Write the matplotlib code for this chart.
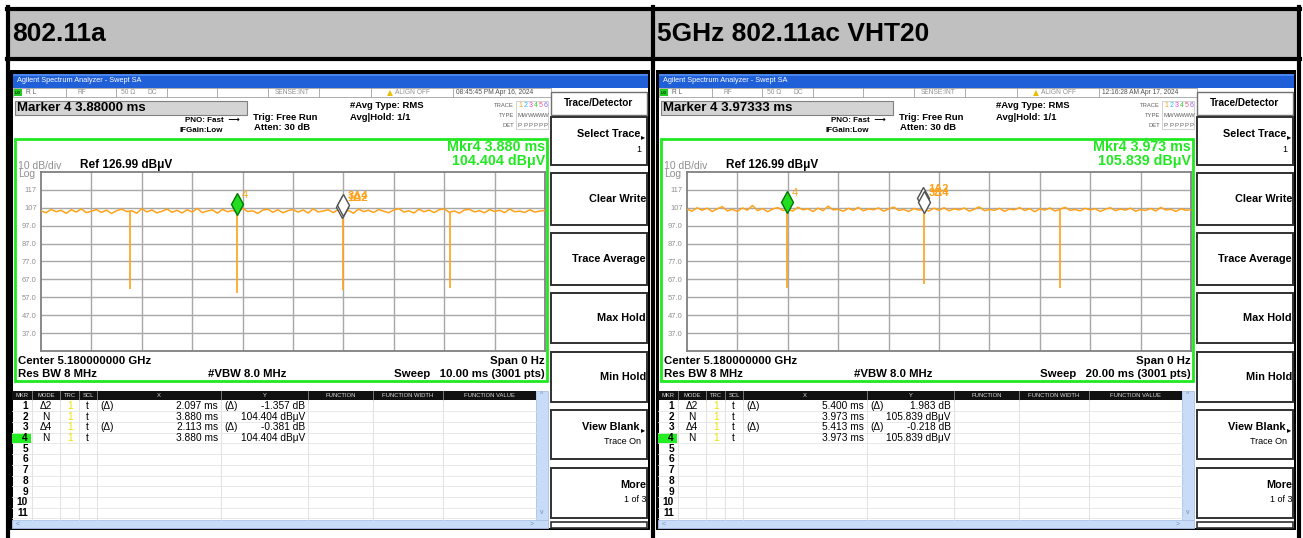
import numpy as np
import matplotlib.pyplot as plt
from matplotlib.patches import Rectangle
from matplotlib.transforms import offset_copy

plt.rcParams['font.family'] = ['Liberation Sans', 'DejaVu Sans']

W, H = 1303, 538

# ---- data ----
titles = ['802.11a', '5GHz 802.11ac VHT20']
timestamps = ['08:45:45 PM Apr 16, 2024', '12:16:28 AM Apr 17, 2024']
marker_box = ['Marker 4 3.88000 ms', 'Marker 4 3.97333 ms']
sweep_ms = [10.0, 20.0]
sweep_text = ['Sweep   10.00 ms (3001 pts)', 'Sweep   20.00 ms (3001 pts)']
ref_level = 126.99
ytick_vals = [117, 107, 97, 87, 77, 67, 57, 47, 37]
ytick_labels = ['117', '107', '97.0', '87.0', '77.0', '67.0', '57.0', '47.0', '37.0']

trace_a = [
    105.3, 104.2, 106.1, 104.8, 105.6, 103.9, 105.9, 104.6, 106.4, 104.3,
    105.1, 106.0, 104.4, 105.7, 103.8, 105.4, 106.2, 104.9, 105.3, 104.0,
    106.5, 104.7, 105.8, 104.2, 105.0, 106.3, 104.5, 105.6, 104.1, 105.9,
    104.6, 106.6, 104.3, 105.2, 105.8, 104.0, 106.1, 104.8, 105.5, 104.4,
    106.7, 104.9, 105.3, 103.9, 105.7, 106.2, 104.5, 105.9, 104.2, 105.4,
    106.0, 104.6, 105.8, 104.1, 106.4, 104.7, 105.2, 105.9, 104.3, 106.1,
    104.8, 105.5, 104.0, 106.3, 104.9, 105.6, 104.4, 106.0, 105.1, 104.2,
    105.8, 106.5, 104.6, 105.3, 104.1, 106.2, 104.8, 105.7, 104.3, 105.9,
    106.4, 104.5, 105.2, 104.0, 105.8, 106.1, 104.7, 105.4, 104.2, 106.0,
    104.9, 105.6, 104.3, 106.3, 104.8, 105.1, 104.4, 105.9, 104.6, 105.2, 105.5]
trace_ac = [
    106.2, 105.1, 107.0, 105.6, 106.8, 104.9, 106.4, 107.6, 105.3, 106.1,
    105.0, 106.9, 105.7, 108.3, 105.4, 106.6, 104.8, 106.3, 107.1, 105.5,
    106.0, 105.2, 107.3, 105.9, 106.5, 104.9, 106.8, 105.4, 107.9, 105.8,
    106.2, 105.0, 106.7, 105.6, 107.2, 105.3, 106.4, 105.9, 106.9, 105.1,
    106.3, 107.4, 105.5, 106.1, 104.9, 106.6, 105.7, 106.0, 105.2, 106.8,
    105.6, 107.0, 105.3, 106.4, 105.8, 106.9, 105.1, 106.2, 107.5, 105.4,
    106.0, 105.6, 106.7, 105.0, 106.3, 105.9, 107.1, 105.5, 106.5, 104.8,
    106.4, 105.7, 106.9, 105.2, 106.1, 107.3, 105.6, 106.0, 105.3, 106.7,
    105.8, 106.5, 104.9, 106.2, 107.0, 105.4, 106.3, 105.7, 106.8, 105.1,
    106.0, 105.5, 106.6, 105.2, 107.2, 105.8, 106.1, 105.0, 106.4, 105.6, 105.9]
traces = [trace_a, trace_ac]

dip_times = [[1.767, 3.880, 5.993, 8.106], [3.973, 9.386, 14.80]]
dip_lows = [[61.7, 59.5, 61.3, 62.0], [62.2, 64.4, 62.0]]

# marker 4 (normal) and the two delta markers
m4_time = [3.880, 3.973]
m4_level = [104.404, 105.839]
d12_time = [2.097, 5.400]
d12_level = [-1.357, 1.983]
d34_time = [2.113, 5.413]
d34_level = [-0.381, -0.218]

mkr_line1 = ['Mkr4 3.880 ms', 'Mkr4 3.973 ms']
mkr_line2 = ['104.404 dBμV', '105.839 dBμV']

tbl_mode = ['Δ2', 'N', 'Δ4', 'N']
tbl_x = [['2.097 ms', '3.880 ms', '2.113 ms', '3.880 ms'],
         ['5.400 ms', '3.973 ms', '5.413 ms', '3.973 ms']]
tbl_y = [['-1.357 dB', '104.404 dBμV', '-0.381 dB', '104.404 dBμV'],
         ['1.983 dB', '105.839 dBμV', '-0.218 dB', '105.839 dBμV']]
tbl_cols = ['MKR', 'MODE', 'TRC', 'SCL', 'X', 'Y', 'FUNCTION', 'FUNCTION WIDTH', 'FUNCTION VALUE']
tbl_edges = [12, 32, 60, 79, 97, 221, 308, 373, 443, 536]

softkeys = [('Select Trace', '1', 117, 165), ('Clear Write', '', 173, 225),
            ('Trace Average', '', 233, 285), ('Max Hold', '', 293, 343),
            ('Min Hold', '', 352, 402), ('View Blank', 'Trace On', 410, 459),
            ('More', '1 of 3', 468, 518)]

ORANGE = '#ffa21a'
GREEN = '#22e822'

fig = plt.figure(figsize=(W / 100, H / 100), dpi=100)
bg = fig.add_axes([0, 0, 1, 1])
bg.set_xlim(0, W)
bg.set_ylim(H, 0)
bg.axis('off')


def rect(x0, y0, x1, y1, fc='none', ec='none', lw=1, z=1):
    bg.add_patch(Rectangle((x0, y0), x1 - x0, y1 - y0, fc=fc, ec=ec, lw=lw, zorder=z))


def txt(x, y, s, size=7, color='black', weight='normal', ha='left', **kw):
    bg.text(x, y, s, fontsize=size, color=color, fontweight=weight, ha=ha, va='center', **kw)


# outer table
rect(10, 10, 1297, 57, fc='#c0c0c0')
for yy in (8.5, 58.5):
    bg.plot([7, 1300], [yy, yy], color='black', lw=3)
for xx in (7.5, 653, 1298.5):
    bg.plot([xx, xx], [7, H], color='black', lw=3)
txt(12, 34, titles[0], size=19, weight='bold')
txt(657, 34, titles[1], size=19, weight='bold')


def panel(i, ox):
    # screenshot frame
    rect(ox + 10, 70, ox + 650, 530, fc='black')
    rect(ox + 13, 74, ox + 648, 528, fc='white')
    # window title bar
    rect(ox + 13, 74, ox + 648, 88, fc='#1f5fd8')
    rect(ox + 13, 74, ox + 648, 76, fc='#4a86f0')
    txt(ox + 17, 81, 'Agilent Spectrum Analyzer - Swept SA', size=5.3, color='white')
    # status row
    rect(ox + 13, 88, ox + 551, 97, fc='white', ec='#a0a0a0', lw=0.6)
    for xx in (66, 116, 167, 217, 268, 319, 371, 453):
        bg.plot([ox + xx, ox + xx], [88, 97], color='#a0a0a0', lw=0.6)
    rect(ox + 14, 89, ox + 22, 96, fc='#22cc22')
    txt(ox + 15, 92.5, 'LXI', size=3, color='black')
    txt(ox + 26, 92.5, 'R L', size=4.8, color='#606060')
    txt(ox + 78, 92.5, 'RF', size=4.8, color='#909090')
    txt(ox + 121, 92.5, '50 Ω', size=4.8, color='#909090')
    txt(ox + 148, 92.5, 'DC', size=4.8, color='#909090')
    txt(ox + 292, 92.5, 'SENSE:INT', size=4.8, color='#909090', ha='center')
    txt(ox + 387, 92.5, '▲', size=5.5, color='#e8c000', family='DejaVu Sans')
    txt(ox + 395, 92.5, 'ALIGN OFF', size=4.8, color='#909090')
    txt(ox + 456, 92.5, timestamps[i], size=4.8, color='#505050')
    # marker readout box
    rect(ox + 15, 101, ox + 247, 115, fc='#d4d4d4', ec='#808080', lw=0.8)
    txt(ox + 17, 108, marker_box[i], size=9.5, weight='bold')
    txt(ox + 240, 120.5, 'PNO: Fast  ⟶', size=5.8, weight='bold', ha='right')
    txt(ox + 180, 130, 'IFGain:Low', size=5.8, weight='bold')
    txt(ox + 253, 117, 'Trig: Free Run', size=6.8, weight='bold')
    txt(ox + 254, 128, 'Atten: 30 dB', size=6.8, weight='bold')
    txt(ox + 350, 106, '#Avg Type: RMS', size=6.8, weight='bold')
    txt(ox + 350, 117, 'Avg|Hold: 1/1', size=6.8, weight='bold')
    # trace legend
    txt(ox + 514, 105.5, 'TRACE', size=4.2, color='#606060', ha='right')
    txt(ox + 514, 115.5, 'TYPE', size=4.2, color='#606060', ha='right')
    txt(ox + 514, 125.5, 'DET', size=4.2, color='#606060', ha='right')
    rect(ox + 516, 101, ox + 548, 129, fc='none', ec='#c0c0c0', lw=0.5)
    for k, c in enumerate(['#f0a020', '#22bbee', '#dd44dd', '#33cc33', '#ee5588', '#8866ee']):
        txt(ox + 520 + k * 5.2, 105.5, str(k + 1), size=5, color=c, ha='center')
        txt(ox + 520 + k * 5.2, 115.5, 'M' if k == 0 else 'W', size=4.3, color='#606060', ha='center')
        txt(ox + 520 + k * 5.2, 125.5, 'P', size=4.3, color='#606060', ha='center')
    # green graph frame and annotations
    rect(ox + 15, 139, ox + 547, 381, ec=GREEN, lw=2, z=3)
    txt(ox + 545, 147, mkr_line1[i], size=10.3, color=GREEN, weight='bold', ha='right')
    txt(ox + 545, 161, mkr_line2[i], size=10.3, color=GREEN, weight='bold', ha='right')
    txt(ox + 18, 166, '10 dB/div', size=7.5, color='#909090')
    txt(ox + 18, 174, 'Log', size=7.5, color='#909090')
    txt(ox + 80, 165, 'Ref 126.99 dBμV', size=8.5, weight='bold')
    txt(ox + 18, 361, 'Center 5.180000000 GHz', size=8.2, weight='bold')
    txt(ox + 18, 374, 'Res BW 8 MHz', size=8.2, weight='bold')
    txt(ox + 208, 374, '#VBW 8.0 MHz', size=8.2, weight='bold')
    txt(ox + 545, 361, 'Span 0 Hz', size=8.2, weight='bold', ha='right')
    txt(ox + 545, 374, sweep_text[i], size=8.2, weight='bold', ha='right')

    # softkey panel
    rect(ox + 551, 92, ox + 647, 115, fc='white', ec='#707070', lw=1)
    txt(ox + 599, 103, 'Trace/Detector', size=7.2, weight='bold', ha='center')
    for label, sub, top, bot in softkeys:
        rect(ox + 551, top, ox + 647, bot, fc='white', ec='#303030', lw=1.4)
        arrow = label in ('Select Trace', 'View Blank')
        if sub:
            txt(ox + (640 if arrow else 646), top + 17, label, size=7.8, weight='bold', ha='right')
            txt(ox + 641 if arrow else ox + 646, top + 32, sub, size=6.5, ha='right')
        else:
            txt(ox + 646, (top + bot) / 2, label, size=7.8, weight='bold', ha='right')
        if arrow:
            txt(ox + 641, top + 20, '▸', size=6, family='DejaVu Sans')
    rect(ox + 551, 522, ox + 647, 528, fc='white', ec='#303030', lw=1.2)

    # marker table
    rect(ox + 12, 391, ox + 536, 400, fc='#111111')
    for k, name in enumerate(tbl_cols):
        cx = ox + (tbl_edges[k] + tbl_edges[k + 1]) / 2
        txt(cx, 395.5, name, size=4.2, color='#dddddd', ha='center')
        if k > 0:
            bg.plot([ox + tbl_edges[k]] * 2, [391, 400], color='#888888', lw=0.6)
            bg.plot([ox + tbl_edges[k]] * 2, [400, 520], color='#dddddd', lw=0.6)
    row_y = 406 + 10.7 * np.arange(11)
    for k, ry in enumerate(row_y):
        bg.plot([ox + 12, ox + 536], [ry + 5.35] * 2, color='#e4e4e4', lw=0.6)
        if k == 3:
            rect(ox + 12, ry - 5, ox + 31, ry + 5, fc='#22ee22')
        txt(ox + 28, ry, str(k + 1), size=7.3, weight='bold', ha='right')
        if k < 4:
            txt(ox + 46, ry, tbl_mode[k], size=7.3, ha='center')
            txt(ox + 70, ry, '1', size=7.3, color='#f0e000', ha='center')
            txt(ox + 87, ry, 't', size=7.3, ha='center')
            if tbl_mode[k] != 'N':
                txt(ox + 100, ry, '(Δ)', size=7.3)
                txt(ox + 224, ry, '(Δ)', size=7.3)
            txt(ox + 218, ry, tbl_x[i][k], size=7.3, ha='right')
            txt(ox + 305, ry, tbl_y[i][k], size=7.3, ha='right')
    rect(ox + 536, 391, ox + 548, 520, fc='#c8dcf8', ec='#a8c0e8', lw=0.6)
    rect(ox + 12, 520, ox + 548, 528, fc='#c8dcf8', ec='#a8c0e8', lw=0.6)
    txt(ox + 542, 395, '^', size=5, color='#7090c0', ha='center')
    txt(ox + 542, 512, 'v', size=5, color='#7090c0', ha='center')
    txt(ox + 16, 524, '<', size=5, color='#7090c0')
    txt(ox + 530, 524, '>', size=5, color='#7090c0')

    # spectrum trace axes
    ax = fig.add_axes([(ox + 41) / W, 1 - 351 / H, 504 / W, 179 / H])
    ax.set_facecolor('white')
    ax.set_xlim(0, sweep_ms[i])
    ax.set_ylim(ref_level - 100, ref_level)
    ax.set_xticks(np.linspace(0, sweep_ms[i], 11)[1:-1])
    ax.set_xticklabels([])
    ax.set_yticks(ytick_vals)
    ax.set_yticklabels(ytick_labels)
    ax.tick_params(length=0, labelsize=5.5, labelcolor='#909090', pad=3)
    ax.grid(True, color='#a8a8a8', lw=1)
    for s in ax.spines.values():
        s.set_color('#808080')
        s.set_linewidth(1.3)
    tr = np.array(traces[i])
    t = np.linspace(0, sweep_ms[i], len(tr))
    ax.plot(t, tr, color=ORANGE, lw=1.1, zorder=3)
    dt = np.array(dip_times[i])
    ax.vlines(dt, dip_lows[i], np.interp(dt, t, tr), color=ORANGE, lw=1.2, zorder=3)

    up = offset_copy(ax.transData, fig=fig, x=0, y=8, units='dots')
    lab = offset_copy(ax.transData, fig=fig, x=5, y=17, units='dots')
    m1 = (m4_time[i] + d12_time[i], m4_level[i] + d12_level[i])
    m3 = (m4_time[i] + d34_time[i], m4_level[i] + d34_level[i])
    for (mt, ml), name in ((m1, '1Δ2'), (m3, '3Δ4')):
        ax.plot(mt, ml, marker='d', ms=11, mfc='white', mec='#505050', mew=1,
                transform=up, zorder=5, clip_on=False)
        ax.text(mt, ml, name, transform=lab, fontsize=8, color=ORANGE,
                fontweight='bold', va='center', zorder=6)
    ax.plot(m4_time[i], m4_level[i], marker='d', ms=11, mfc='#22dd22', mec='#007700',
            mew=1, transform=up, zorder=5, clip_on=False)
    ax.text(m4_time[i], m4_level[i], '4', transform=lab, fontsize=8, color=ORANGE,
            va='center', zorder=6)


panel(0, 0)
panel(1, 646)

fig.savefig('out.png', dpi=100)
